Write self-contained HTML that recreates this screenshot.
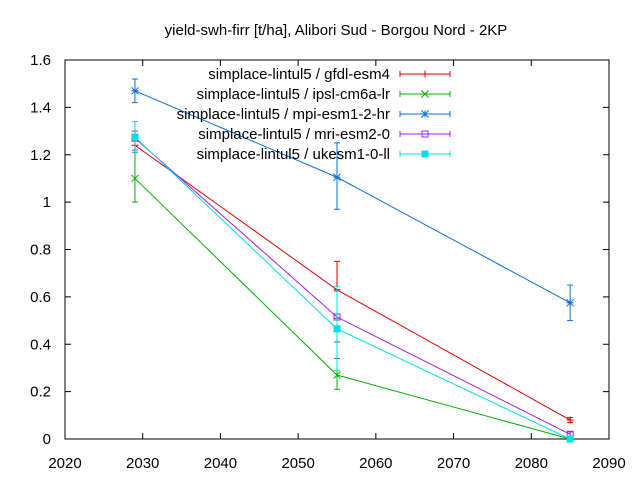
<!DOCTYPE html>
<html><head><meta charset="utf-8"><style>
body{margin:0;background:#fff}
svg text{font-family:"Liberation Sans",sans-serif;font-size:15px;fill:#000}
</style></head><body>
<svg id="chart" width="640" height="480" xmlns="http://www.w3.org/2000/svg">
<text x="336" y="35" text-anchor="middle">yield-swh-firr [t/ha], Alibori Sud - Borgou Nord - 2KP</text>
<rect x="65" y="60" width="544" height="379" fill="none" stroke="#000" stroke-width="1"/>
<g id="axes"></g><g id="series"></g><g id="legend"></g>
</svg>
<script>
const years=[2029,2055,2085];
const seriesNames=["simplace-lintul5 / gfdl-esm4","simplace-lintul5 / ipsl-cm6a-lr","simplace-lintul5 / mpi-esm1-2-hr","simplace-lintul5 / mri-esm2-0","simplace-lintul5 / ukesm1-0-ll"];
const gfdl=[1.24,0.63,0.08], gfdlLo=[1.21,0.51,0.07], gfdlHi=[1.27,0.75,0.09];
const ipsl=[1.10,0.27,0.0], ipslLo=[1.00,0.21,0.0], ipslHi=[1.21,0.34,0.0];
const mpi=[1.47,1.105,0.575], mpiLo=[1.42,0.97,0.50], mpiHi=[1.52,1.25,0.65];
const mri=[1.27,0.515,0.02], mriLo=[1.22,0.41,0.01], mriHi=[1.30,0.625,0.03];
const uk=[1.275,0.465,0.0], ukLo=[1.21,0.29,0.0], ukHi=[1.34,0.645,0.0];
const xTicks=[2020,2030,2040,2050,2060,2070,2080,2090];
const yTicks=[0,0.2,0.4,0.6,0.8,1,1.2,1.4,1.6];
const colors=["#e00000","#00b000","#0a6fe0","#a020f0","#00e0e0"];
const markers=["plus","x","star","sq","fsq"];
const X=v=>65+(v-2020)*(544/70), Y=v=>439-v*(379/1.6);
const NS="http://www.w3.org/2000/svg";
function mk(p,t,a){const e=document.createElementNS(NS,t);for(const k in a)e.setAttribute(k,a[k]);p.appendChild(e);return e;}
const ax=document.getElementById('axes');
xTicks.forEach(t=>{const x=X(t);
 const l=mk(ax,'path',{d:`M${x} 439v-6M${x} 60v6`,stroke:'#000'});
 
 
 const tx=mk(ax,'text',{x:x,y:468,'text-anchor':'middle'});tx.textContent=t;
 
 });
yTicks.forEach(t=>{const y=Y(t);
 const l=mk(ax,'path',{d:`M65 ${y}h6M609 ${y}h-6`,stroke:'#000'});
 
 
 const tx=mk(ax,'text',{x:51,y:y+5,'text-anchor':'end'});tx.textContent=String(t);
 
 });
function marker(g,m,x,y,c){
 if(m==='plus')mk(g,'path',{d:`M${x-3.5} ${y}h7M${x} ${y-3.5}v7`,stroke:c,fill:'none'});
 else if(m==='x')mk(g,'path',{d:`M${x-3.5} ${y-3.5}l7 7M${x-3.5} ${y+3.5}l7 -7`,stroke:c,fill:'none'});
 else if(m==='star')mk(g,'path',{d:`M${x-3.5} ${y}h7M${x} ${y-3.5}v7M${x-3.5} ${y-3.5}l7 7M${x-3.5} ${y+3.5}l7 -7`,stroke:c,fill:'none'});
 else if(m==='sq')mk(g,'rect',{x:x-3,y:y-3,width:6,height:6,stroke:c,fill:'none'});
 else mk(g,'rect',{x:x-3.5,y:y-3.5,width:7,height:7,fill:c});
}
const sg=document.getElementById('series');
const all=[[gfdl,gfdlLo,gfdlHi],[ipsl,ipslLo,ipslHi],[mpi,mpiLo,mpiHi],[mri,mriLo,mriHi],[uk,ukLo,ukHi]];
const lineNames=['line-gfdl-esm4','line-ipsl-cm6a-lr','line-mpi-esm1-2-hr','line-mri-esm2-0','line-ukesm1-0-ll'];
all.forEach((s,i)=>{const c=colors[i];const g=mk(sg,'g',{});
 
 
 mk(g,'polyline',{points:years.map((yr,j)=>X(yr)+','+Y(s[0][j])).join(' '),stroke:c,fill:'none'});
 years.forEach((yr,j)=>{const x=X(yr);
  mk(g,'path',{d:`M${x} ${Y(s[1][j])}V${Y(s[2][j])}M${x-3} ${Y(s[1][j])}h6M${x-3} ${Y(s[2][j])}h6`,stroke:c,fill:'none'});
  marker(g,markers[i],x,Y(s[0][j]),c);});
});
const lg=document.getElementById('legend');
seriesNames.forEach((n,i)=>{const y=74+i*20;const g=mk(lg,'g',{});
 
 
 const t=mk(g,'text',{x:390,y:y+5,'text-anchor':'end'});t.textContent=n;
 mk(g,'path',{d:`M400 ${y}h50M400 ${y-3}v6M450 ${y-3}v6`,stroke:colors[i],fill:'none'});
 marker(g,markers[i],425,y,colors[i]);});
</script>
</body></html>
